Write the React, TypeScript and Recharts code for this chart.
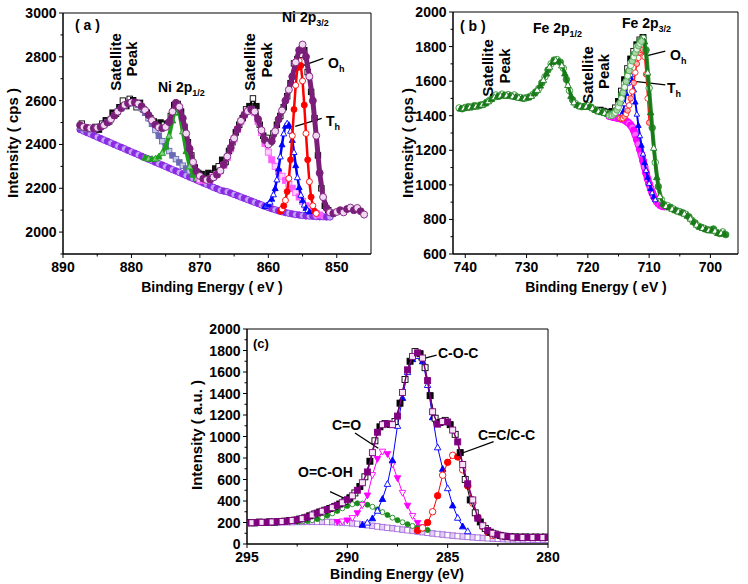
import React from 'react';
import { ScatterChart, Scatter, XAxis, YAxis, ReferenceArea, ReferenceLine } from 'recharts';

const FONT = 'Arial, "Liberation Sans", Helvetica, sans-serif';

// ---------------- Panel (a): Ni 2p ----------------
const A_ENV = [2488, 2480, 2476, 2474, 2474, 2476, 2480, 2488, 2500, 2515, 2532, 2550, 2566, 2580, 2588, 2592, 2592, 2586, 2574, 2556, 2534, 2510, 2490, 2478, 2474, 2480, 2502, 2550, 2590, 2572, 2520, 2450, 2380, 2320, 2278, 2256, 2244, 2238, 2240, 2250, 2262, 2280, 2308, 2345, 2385, 2428, 2470, 2508, 2535, 2552, 2560, 2550, 2515, 2465, 2420, 2400, 2415, 2460, 2515, 2555, 2600, 2650, 2710, 2775, 2830, 2856, 2800, 2710, 2600, 2440, 2270, 2160, 2110, 2090, 2085, 2092, 2100, 2090, 2105, 2112, 2100, 2110, 2095, 2080];
const A_DATA = [2495, 2470, 2462, 2470, 2480, 2468, 2495, 2510, 2505, 2545, 2540, 2570, 2600, 2575, 2608, 2602, 2570, 2590, 2560, 2545, 2520, 2505, 2485, 2500, 2490, 2495, 2530, 2580, 2585, 2550, 2480, 2410, 2350, 2295, 2270, 2265, 2245, 2270, 2260, 2290, 2300, 2330, 2320, 2370, 2410, 2455, 2490, 2520, 2560, 2575, 2610, 2575, 2490, 2440, 2430, 2410, 2450, 2490, 2530, 2570, 2620, 2680, 2770, 2790, 2810, 2830, 2730, 2640, 2520, 2350, 2200, 2120, 2100];
const A_BG = [2468, 2461, 2454, 2448, 2441, 2434, 2427, 2420, 2414, 2407, 2400, 2393, 2387, 2380, 2373, 2366, 2360, 2353, 2346, 2339, 2333, 2326, 2319, 2312, 2306, 2299, 2292, 2285, 2279, 2272, 2265, 2258, 2251, 2245, 2238, 2231, 2224, 2218, 2211, 2204, 2198, 2191, 2187, 2184, 2178, 2172, 2166, 2160, 2154, 2148, 2142, 2136, 2130, 2124, 2118, 2112, 2107, 2102, 2097, 2093, 2089, 2086, 2083, 2080, 2078, 2076, 2074, 2073, 2072, 2071, 2070, 2070, 2069, 2069];
const A_SAT1 = [2480, 2474, 2470, 2470, 2472, 2476, 2482, 2490, 2502, 2516, 2532, 2550, 2565, 2578, 2586, 2590, 2588, 2580, 2565, 2545, 2520, 2494, 2466, 2440, 2415, 2392, 2370, 2350, 2333, 2318, 2303, 2290, 2278, 2266, 2256, 2246];
const A_NI12 = [2340, 2336, 2334, 2336, 2345, 2362, 2390, 2440, 2510, 2575, 2545, 2460, 2370, 2300, 2262, 2245];
const A_SAT2 = [2240, 2236, 2236, 2242, 2252, 2264, 2280, 2305, 2340, 2380, 2425, 2468, 2505, 2535, 2552, 2558, 2545, 2505, 2455, 2405, 2365, 2330, 2300, 2275, 2255, 2236, 2218, 2200, 2180, 2160, 2140, 2120, 2105, 2094, 2085, 2078];
const A_TH = [2118, 2122, 2128, 2138, 2152, 2172, 2200, 2240, 2290, 2345, 2400, 2450, 2485, 2497, 2490, 2462, 2420, 2365, 2305, 2250, 2205, 2170, 2145, 2125, 2110, 2100, 2093];
const A_OH = [2095, 2105, 2120, 2145, 2185, 2245, 2330, 2440, 2560, 2670, 2750, 2782, 2760, 2690, 2580, 2450, 2330, 2230, 2160, 2120, 2095, 2085];
const A_XTICKS = [890, 885, 880, 875, 870, 865, 860, 855, 850];
const A_YTICKS = [1900, 2000, 2100, 2200, 2300, 2400, 2500, 2600, 2700, 2800, 2900, 3000];

// ---------------- Panel (b): Fe 2p ----------------
const B_DATA = [1445, 1440, 1448, 1452, 1450, 1458, 1455, 1462, 1465, 1478, 1490, 1505, 1520, 1512, 1525, 1518, 1522, 1515, 1520, 1508, 1505, 1500, 1505, 1510, 1522, 1538, 1558, 1590, 1625, 1665, 1700, 1722, 1725, 1710, 1675, 1610, 1545, 1492, 1470, 1458, 1452, 1455, 1458, 1450, 1438, 1428, 1425, 1420, 1415, 1410, 1412, 1428, 1465, 1520, 1585, 1650, 1705, 1755, 1800, 1830, 1848, 1780, 1560, 1330, 1130, 990, 915, 885, 880, 870, 860, 850, 845, 838, 830, 815, 795, 780, 762, 755, 748, 740, 738, 745, 725, 718, 728, 712];
const B_FIT = [1442, 1444, 1447, 1450, 1453, 1456, 1460, 1465, 1472, 1484, 1497, 1508, 1514, 1517, 1518, 1518, 1516, 1513, 1509, 1505, 1502, 1502, 1506, 1515, 1530, 1550, 1575, 1608, 1645, 1684, 1712, 1722, 1716, 1692, 1645, 1578, 1515, 1478, 1462, 1455, 1453, 1454, 1452, 1444, 1434, 1426, 1421, 1416, 1411, 1408, 1415, 1442, 1490, 1552, 1618, 1680, 1732, 1778, 1815, 1840, 1830, 1650, 1420, 1215, 1045, 935, 892, 878, 870, 862, 854, 847, 841, 834, 822, 805, 787, 770, 758, 751, 744, 739, 740, 735, 722, 722, 718];
const B_LEFT = [1400, 1400, 1402, 1408, 1418, 1432, 1450, 1474, 1500, 1532, 1565, 1598, 1630, 1660, 1690, 1716, 1740, 1763, 1785, 1803, 1818, 1830];
const B_BLACK = [1432, 1426, 1421, 1418, 1424, 1445, 1482, 1542, 1608, 1672, 1728, 1772, 1810, 1838, 1852];
const B_BG = [1398, 1396, 1394, 1392, 1390, 1388, 1386, 1384, 1382, 1379, 1375, 1369, 1362, 1355, 1345, 1332, 1315, 1290, 1262, 1235, 1205, 1175, 1140, 1105, 1068, 1035, 1005, 978, 955, 935, 918, 903, 892, 884, 879, 876, 875];
const B_TH = [1390, 1400, 1425, 1470, 1530, 1590, 1630, 1638, 1605, 1550, 1480, 1410, 1345, 1285, 1230, 1180, 1130, 1085, 1045, 1010, 980, 955, 932, 915];
const B_OH = [1385, 1382, 1385, 1395, 1410, 1430, 1460, 1500, 1540, 1590, 1650, 1700, 1735, 1765, 1780, 1782, 1740, 1640, 1500, 1360];
const B_XTICKS = [740, 735, 730, 725, 720, 715, 710, 705, 700];
const B_YTICKS = [600, 700, 800, 900, 1000, 1100, 1200, 1300, 1400, 1500, 1600, 1700, 1800, 1900, 2000];

// ---------------- Panel (c): C 1s ----------------
const C_ENV = [195, 198, 200, 202, 203, 205, 208, 210, 213, 218, 225, 236, 250, 270, 288, 305, 320, 338, 360, 384, 412, 448, 500, 570, 670, 850, 1040, 1110, 1118, 1110, 1190, 1410, 1620, 1745, 1778, 1730, 1520, 1230, 1115, 1140, 1135, 1060, 950, 740, 560, 410, 240, 170, 125, 100, 85, 75, 68, 64, 62, 60, 60, 60, 60, 60, 60];
const C_DATA = [200, 196, 204, 200, 206, 203, 210, 212, 218, 222, 232, 244, 262, 280, 298, 314, 330, 350, 372, 398, 430, 475, 535, 625, 770, 960, 1090, 1120, 1112, 1140, 1310, 1530, 1700, 1790, 1770, 1640, 1380, 1170, 1130, 1150, 1110, 1020, 850, 600, 410, 290, 205, 145, 110, 92, 80, 72, 68, 66, 65, 66, 64, 65, 64, 65];
const C_BG = [195, 196, 197, 198, 199, 200, 201, 202, 203, 204, 205, 205, 206, 206, 206, 206, 205, 204, 202, 199, 196, 192, 187, 181, 175, 169, 163, 157, 151, 146, 140, 134, 128, 122, 116, 110, 104, 98, 93, 88, 83, 78, 74, 70, 66, 62, 59, 56, 53, 50, 48, 46, 44, 43, 42, 41, 40, 40, 40, 40, 40];
const C_OCOH = [207, 210, 215, 222, 232, 246, 264, 285, 308, 332, 354, 370, 378, 376, 365, 346, 322, 296, 270, 245, 222, 202, 184, 168, 155, 143, 130];
const C_CO = [203, 208, 218, 240, 285, 360, 450, 640, 790, 858, 835, 740, 610, 475, 355, 260, 195, 155];
const C_COC = [180, 200, 240, 310, 420, 560, 780, 1100, 1360, 1600, 1720, 1750, 1700, 1480, 1180, 900, 700, 520, 360, 245, 165, 120];
const C_CC = [125, 150, 200, 300, 450, 640, 760, 825, 810, 690, 540, 380, 250, 160, 110, 80];
const C_XTICKS = [295, 292.5, 290, 287.5, 285, 282.5, 280];
const C_YTICKS = [0, 100, 200, 300, 400, 500, 600, 700, 800, 900, 1000, 1100, 1200, 1300, 1400, 1500, 1600, 1700, 1800, 1900, 2000];

// build {x,y} tables: values listed from high binding energy downward
const build = (start: number, step: number, vals: number[]) =>
  vals.map((y, i) => ({ x: Math.round((start - i * step) * 1000) / 1000, y, i }));

type Kind = 'circle' | 'square' | 'tri' | 'tridown';
function marker(kind: Kind, size: number, stroke: string, fillA: string, fillB: string, sw = 0.9) {
  const r = size / 2;
  return (p: any) => {
    const cx = p.cx;
    const cy = p.cy;
    if (typeof cx !== 'number' || typeof cy !== 'number' || isNaN(cx) || isNaN(cy)) return <g />;
    const idx = p.payload && typeof p.payload.i === 'number' ? p.payload.i : 0;
    const fill = idx % 2 === 0 ? fillA : fillB;
    if (kind === 'circle') return <circle cx={cx} cy={cy} r={r} fill={fill} stroke={stroke} strokeWidth={sw} />;
    if (kind === 'square') return <rect x={cx - r} y={cy - r} width={size} height={size} fill={fill} stroke={stroke} strokeWidth={sw} />;
    if (kind === 'tri')
      return <path d={`M${cx},${cy - r} L${cx + r},${cy + r * 0.8} L${cx - r},${cy + r * 0.8} Z`} fill={fill} stroke={stroke} strokeWidth={sw} />;
    return <path d={`M${cx},${cy + r} L${cx + r},${cy - r * 0.8} L${cx - r},${cy - r * 0.8} Z`} fill={fill} stroke={stroke} strokeWidth={sw} />;
  };
}

const isMajor = (v: number, major: number) => Math.abs(v / major - Math.round(v / major)) < 1e-6;

const makeXTick = (major: number) => (props: any) => {
  const { x, y, payload } = props;
  const v = payload.value;
  const mj = isMajor(v, major);
  return (
    <g>
      <line x1={x} y1={y} x2={x} y2={y + (mj ? 4 : 2.5)} stroke="#000" strokeWidth={1} />
      {mj && (
        <text x={x} y={y + 18} textAnchor="middle" fontFamily={FONT} fontWeight="bold" fontSize={14} fill="#000">
          {v}
        </text>
      )}
    </g>
  );
};

const makeYTick = (major: number) => (props: any) => {
  const { x, y, payload } = props;
  const v = payload.value;
  const mj = isMajor(v, major);
  return (
    <g>
      <line x1={x} y1={y} x2={x - (mj ? 4 : 2.5)} y2={y} stroke="#000" strokeWidth={1} />
      {mj && (
        <text x={x - 6.5} y={y} dy="0.36em" textAnchor="end" fontFamily={FONT} fontWeight="bold" fontSize={14} fill="#000">
          {v}
        </text>
      )}
    </g>
  );
};

type S = { data: any[]; kind: Kind; size: number; stroke: string; fa: string; fb: string; lw?: number; lc?: string; sw?: number };

const renderSeries = (list: S[], key: string) =>
  list.map((s, k) => (
    <Scatter
      key={key + k}
      data={s.data}
      isAnimationActive={false}
      line={{ stroke: s.lc ?? s.stroke, strokeWidth: s.lw ?? 1, strokeLinejoin: 'round', strokeLinecap: 'round' }}
      lineType="joint"
      shape={marker(s.kind, s.size, s.stroke, s.fa, s.fb, s.sw ?? 0.9)}
    />
  ));

const axisLine = { stroke: '#000', strokeWidth: 1 };

function Panel(props: {
  left: number; top: number; width: number; height: number; margin: any; yWidth: number; xHeight: number;
  xDomain: [number, number]; yDomain: [number, number]; xTicks: number[]; yTicks: number[]; xMajor: number; yMajor: number;
  series: S[]; leaders: { x1: number; y1: number; x2: number; y2: number }[]; id: string;
}) {
  const p = props;
  return (
    <div style={{ position: 'absolute', left: p.left, top: p.top, width: p.width, height: p.height }}>
      <ScatterChart width={p.width} height={p.height} margin={p.margin}>
        <XAxis
          type="number" dataKey="x" domain={p.xDomain} reversed allowDataOverflow ticks={p.xTicks} interval={0}
          height={p.xHeight} tickSize={0} tickMargin={0} tickLine={false} axisLine={axisLine} tick={makeXTick(p.xMajor)}
        />
        <YAxis
          type="number" dataKey="y" domain={p.yDomain} allowDataOverflow ticks={p.yTicks} interval={0}
          width={p.yWidth} tickSize={0} tickMargin={0} tickLine={false} axisLine={axisLine} tick={makeYTick(p.yMajor)}
        />
        <ReferenceArea x1={p.xDomain[0]} x2={p.xDomain[1]} y1={p.yDomain[0]} y2={p.yDomain[1]} fill="none" stroke="#000" strokeWidth={1} ifOverflow="visible" />
        {renderSeries(p.series, p.id)}
        {p.leaders.map((l, k) => (
          <ReferenceLine key={'l' + k} segment={[{ x: l.x1, y: l.y1 }, { x: l.x2, y: l.y2 }]} stroke="#000" strokeWidth={1.3} ifOverflow="visible" />
        ))}
      </ScatterChart>
    </div>
  );
}

const TXT = { fontFamily: FONT, fontWeight: 'bold' as const, fill: '#000' };

const Sub = ({ x, y, main, sub, size = 14 }: { x: number; y: number; main: string; sub: string; size?: number }) => (
  <text x={x} y={y} fontSize={size} {...TXT}>
    {main}
    <tspan fontSize={9} dy={4}>{sub}</tspan>
  </text>
);

const Rot = ({ x, y, t, size = 15 }: { x: number; y: number; t: string; size?: number }) => (
  <text x={x} y={y} dy="0.36em" fontSize={size} textAnchor="middle" transform={`rotate(-90 ${x} ${y})`} {...TXT}>
    {t}
  </text>
);

export default function App() {
  const aSeries: S[] = [
    { data: build(887.25, 0.5, A_DATA), kind: 'square', size: 5.5, stroke: '#000', fa: '#fff', fb: '#111', lw: 2 },
    { data: build(887.5, 0.5, A_BG), kind: 'circle', size: 6.5, stroke: '#8a2be2', fa: '#8a2be2', fb: '#c4a2ff', lw: 6, lc: '#9a4af0' },
    { data: build(887.5, 0.5, A_SAT1), kind: 'square', size: 5.5, stroke: '#6a6ab4', fa: '#c8c8ea', fb: '#6a6ab4', lw: 4, lc: '#9090c8' },
    { data: build(878.0, 0.5, A_NI12), kind: 'tri', size: 6.5, stroke: '#1e9e1e', fa: '#1e9e1e', fb: '#7fd27f', lw: 4 },
    { data: build(870.0, 0.5, A_SAT2), kind: 'square', size: 6, stroke: '#ff5cff', fa: '#ffd0ff', fb: '#ff5cff', lw: 4, lc: '#ff8cff' },
    { data: build(860.5, 0.25, A_TH), kind: 'tri', size: 6, stroke: '#0000ff', fa: '#0000ff', fb: '#ffffff', lw: 2.5 },
    { data: build(858.25, 0.25, A_OH), kind: 'circle', size: 6, stroke: '#ff0000', fa: '#ff0000', fb: '#ffffff', lw: 2.5 },
    { data: build(887.5, 0.5, A_ENV), kind: 'circle', size: 7, stroke: '#7a1e7a', fa: '#7a1e7a', fb: '#f2d9f2', lw: 5 },
  ];
  const bSeries: S[] = [
    { data: build(718.0, 0.5, B_BLACK), kind: 'square', size: 6, stroke: '#000', fa: '#000', fb: '#fff', lw: 3 },
    { data: build(716.5, 0.25, B_BG), kind: 'circle', size: 7, stroke: '#ff00ff', fa: '#ff00ff', fb: '#ff66ff', lw: 7 },
    { data: build(714.75, 0.25, B_TH), kind: 'tri', size: 5.5, stroke: '#0000ff', fa: '#0000ff', fb: '#ffffff', lw: 2 },
    { data: build(714.75, 0.25, B_OH), kind: 'circle', size: 5.5, stroke: '#ff1a1a', fa: '#ffffff', fb: '#ffb0b0', lw: 1.5 },
    { data: build(741.0, 0.5, B_DATA), kind: 'circle', size: 6.5, stroke: '#2f8f2f', fa: '#ffffff', fb: '#2f8f2f', lw: 4 },
    { data: build(740.75, 0.5, B_FIT), kind: 'tri', size: 6.5, stroke: '#1a7a1a', fa: '#1a7a1a', fb: '#ffffff', lw: 3 },
    { data: build(716.5, 0.25, B_LEFT), kind: 'circle', size: 6, stroke: '#5aaa5a', fa: '#eaf6ea', fb: '#a8d8a8', lw: 3, lc: '#8cc88c' },
  ];
  const cSeries: S[] = [
    { data: build(295.0, 0.25, C_BG), kind: 'square', size: 5.5, stroke: '#a46ad8', fa: '#ffffff', fb: '#e2cdf6', lw: 1 },
    { data: build(292.5, 0.25, C_OCOH), kind: 'circle', size: 5, stroke: '#1a8a1a', fa: '#1a8a1a', fb: '#ffffff', lw: 1 },
    { data: build(290.5, 0.25, C_CO), kind: 'tridown', size: 6.5, stroke: '#ff00ff', fa: '#ff00ff', fb: '#ffffff', lw: 1 },
    { data: build(289.25, 0.25, C_COC), kind: 'tri', size: 6.5, stroke: '#0000ff', fa: '#0000ff', fb: '#ffffff', lw: 1 },
    { data: build(286.5, 0.25, C_CC), kind: 'circle', size: 6.5, stroke: '#ff0000', fa: '#ff0000', fb: '#ffffff', lw: 1 },
    { data: build(294.875, 0.25, C_DATA), kind: 'square', size: 6, stroke: '#000', fa: '#000', fb: '#ffffff', lw: 1 },
    { data: build(295.0, 0.25, C_ENV), kind: 'square', size: 6, stroke: '#800080', fa: '#800080', fb: '#f6e4f6', lw: 1.5 },
  ];

  return (
    <div style={{ position: 'absolute', left: 0, top: 0, width: 748, height: 584, background: '#fff', overflow: 'hidden' }}>
      <Panel
        id="a" left={0} top={0} width={380} height={290} margin={{ top: 13, right: 9, bottom: 0, left: 0 }} yWidth={63} xHeight={36}
        xDomain={[845, 890]} yDomain={[1900, 3000]} xTicks={A_XTICKS} yTicks={A_YTICKS} xMajor={10} yMajor={200}
        series={aSeries}
        leaders={[
          { x1: 851.97, y1: 2793, x2: 855.37, y2: 2755 },
          { x1: 852.2, y1: 2519, x2: 856.07, y2: 2482 },
        ]}
      />
      <Panel
        id="b" left={380} top={0} width={368} height={290} margin={{ top: 12, right: 10, bottom: 0, left: 0 }} yWidth={73} xHeight={36}
        xDomain={[695.5, 742]} yDomain={[600, 2000]} xTicks={B_XTICKS} yTicks={B_YTICKS} xMajor={10} yMajor={200}
        series={bSeries}
        leaders={[
          { x1: 707.36, y1: 1774, x2: 711.11, y2: 1740 },
          { x1: 707.36, y1: 1578, x2: 713.07, y2: 1601 },
        ]}
      />
      <Panel
        id="c" left={180} top={290} width={400} height={294} margin={{ top: 39, right: 32, bottom: 0, left: 0 }} yWidth={67} xHeight={40}
        xDomain={[280, 295]} yDomain={[0, 2000]} xTicks={C_XTICKS} yTicks={C_YTICKS} xMajor={5} yMajor={200}
        series={cSeries}
        leaders={[
          { x1: 285.55, y1: 1758, x2: 286.46, y2: 1712 },
          { x1: 289.62, y1: 1033, x2: 288.46, y2: 890 },
          { x1: 290.86, y1: 487, x2: 289.62, y2: 379 },
          { x1: 282.71, y1: 952, x2: 284.54, y2: 828 },
        ]}
      />
      <svg width={748} height={584} style={{ position: 'absolute', left: 0, top: 0, pointerEvents: 'none' }}>
        {/* panel a */}
        <text x={75} y={30} fontSize={14} {...TXT}>( a )</text>
        <Rot x={115.5} y={62} t="Satellite" />
        <Rot x={132} y={59} t="Peak" />
        <Rot x={250} y={62} t="Satellite" />
        <Rot x={267} y={60} t="Peak" />
        <Sub x={158} y={92} main="Ni 2p" sub="1/2" />
        <Sub x={282} y={22} main="Ni 2p" sub="3/2" />
        <Sub x={328} y={67.5} main="O" sub="h" />
        <Sub x={326} y={126} main="T" sub="h" />
        <Rot x={12.5} y={143} t="Intensity ( cps )" />
        <text x={212} y={292} fontSize={14} textAnchor="middle" {...TXT}>Binding Energy ( eV )</text>
        {/* panel b */}
        <text x={460} y={31} fontSize={14} {...TXT}>( b )</text>
        <Sub x={533} y={33} main="Fe 2p" sub="1/2" />
        <Sub x={622} y={28} main="Fe 2p" sub="3/2" />
        <Rot x={487.5} y={68} t="Satellite" />
        <Rot x={505} y={66} t="Peak" />
        <Rot x={588} y={75} t="Satellite" />
        <Rot x={604} y={71.5} t="Peak" />
        <Sub x={670} y={60} main="O" sub="h" />
        <Sub x={667} y={93} main="T" sub="h" />
        <Rot x={407.5} y={143} t="Intensity ( cps )" />
        <text x={596} y={292} fontSize={14} textAnchor="middle" {...TXT}>Binding Energy ( eV )</text>
        {/* panel c */}
        <text x={253} y={348} fontSize={13} {...TXT}>(c)</text>
        <text x={438} y={358} fontSize={14} {...TXT}>C-O-C</text>
        <text x={332} y={430} fontSize={14} {...TXT}>C=O</text>
        <text x={298} y={477} fontSize={14} {...TXT}>O=C-OH</text>
        <text x={478} y={440} fontSize={14} {...TXT}>C=C/C-C</text>
        <Rot x={197} y={435} t="Intensity ( a.u. )" />
        <text x={397} y={579} fontSize={14} textAnchor="middle" {...TXT}>Binding Energy (eV)</text>
      </svg>
    </div>
  );
}
